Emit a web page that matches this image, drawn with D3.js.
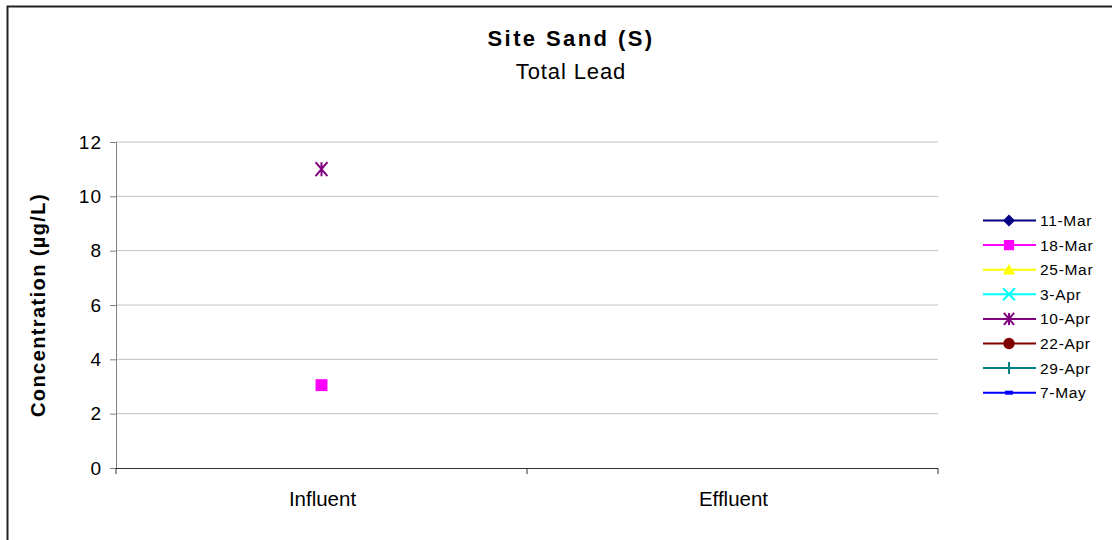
<!DOCTYPE html>
<html><head><meta charset="utf-8">
<script src="https://cdn.jsdelivr.net/npm/d3@7"></script>
<style>body{margin:0;background:#fff;}svg{display:block;font-family:"Liberation Sans",Arial,sans-serif;}</style>
</head><body><svg id="c" width="1112" height="540"></svg>
<script>
const categories = ["Influent", "Effluent"];
const seriesNames = ["11-Mar","18-Mar","25-Mar","3-Apr","10-Apr","22-Apr","29-Apr","7-May"];
const seriesColors = ["#000080","#FF00FF","#FFFF00","#00FFFF","#800080","#800000","#008080","#0000FF"];
const seriesSymbols = ["diamond","square","triangle","x","star","circle","plus","dash"];
const v11Mar = [null, null];
const v18Mar = [3.05, null];
const v25Mar = [null, null];
const v3Apr  = [null, null];
const v10Apr = [11, null];
const v22Apr = [null, null];
const v29Apr = [null, null];
const v7May  = [null, null];
const seriesValues = [v11Mar, v18Mar, v25Mar, v3Apr, v10Apr, v22Apr, v29Apr, v7May];
const yTicks = [0,2,4,6,8,10,12];

const svg = d3.select("#c");
svg.append("rect").attr("x",7.5).attr("y",6.5).attr("width",1200).attr("height",600)
  .attr("fill","#fff").attr("stroke","#222").attr("stroke-width",2);

const L=116, R=938, T=142, B=468;
const x = d3.scaleBand().domain(categories).range([L,R]).paddingInner(0).paddingOuter(0);
const y = d3.scaleLinear().domain([0,12]).range([B,T]);

// gridlines
svg.append("g").selectAll("line").data(yTicks.filter(d=>d>0)).join("line")
  .attr("x1",L).attr("x2",R).attr("y1",d=>y(d)).attr("y2",d=>y(d))
  .attr("stroke","#c0c0c0").attr("stroke-width",1);

// y axis
const ya = svg.append("g").attr("transform",`translate(${L},0)`)
  .call(d3.axisLeft(y).tickValues(yTicks).tickSize(6).tickPadding(8).tickFormat(d3.format("d")));
ya.select(".domain").attr("stroke","#808080");
ya.selectAll(".tick line").attr("stroke","#808080");
ya.selectAll("text").attr("font-size",19).attr("fill","#000").attr("letter-spacing","1")
  .attr("font-family","Liberation Sans, Arial, sans-serif");

// x axis
const xa = svg.append("g").attr("transform",`translate(0,${B})`);
xa.append("line").attr("x1",L).attr("x2",R).attr("y1",0.5).attr("y2",0.5).attr("stroke","#333");
const bounds = [L, ...categories.map(c=>x(c)+x.bandwidth())];
xa.selectAll("line.tk").data(bounds).join("line").attr("class","tk")
  .attr("x1",d=>d).attr("x2",d=>d).attr("y1",0).attr("y2",6).attr("stroke","#333");
xa.selectAll("text").data(categories).join("text")
  .attr("x",d=>x(d)+x.bandwidth()/2+1).attr("y",38).attr("text-anchor","middle")
  .attr("font-size",20.5).attr("fill","#000").text(d=>d);

// y label
svg.append("text").attr("transform",`translate(45,${(T+B)/2}) rotate(-90)`)
  .attr("text-anchor","middle").attr("font-size",20).attr("font-weight","bold")
  .attr("letter-spacing","1.4").text("Concentration (µg/L)");

// titles
svg.append("text").attr("x",571).attr("y",46).attr("text-anchor","middle")
  .attr("font-size",22).attr("font-weight","bold").attr("letter-spacing","2.4").text("Site Sand (S)");
svg.append("text").attr("x",571).attr("y",79).attr("text-anchor","middle")
  .attr("font-size",22).attr("letter-spacing","0.9").text("Total Lead");

function drawSymbol(g, type, color, size){
  const s=size;
  if(type==="diamond") g.append("path").attr("d",`M0,${-s}L${s},0L0,${s}L${-s},0Z`).attr("fill",color);
  else if(type==="square") g.append("rect").attr("x",-s*0.85).attr("y",-s*0.85).attr("width",s*1.7).attr("height",s*1.7).attr("fill",color);
  else if(type==="triangle") g.append("path").attr("d",`M0,${-s}L${s},${s*0.8}L${-s},${s*0.8}Z`).attr("fill",color);
  else if(type==="x") g.append("path").attr("d",`M${-s},${-s}L${s},${s}M${-s},${s}L${s},${-s}`).attr("stroke",color).attr("stroke-width",2);
  else if(type==="star") g.append("path").attr("d",`M${-s*0.85},${-s}L${s*0.85},${s}M${-s*0.85},${s}L${s*0.85},${-s}M0,${-s}L0,${s}`).attr("stroke",color).attr("stroke-width",2);
  else if(type==="circle") g.append("circle").attr("r",s*0.95).attr("fill",color);
  else if(type==="plus") g.append("path").attr("d",`M${-s},0L${s},0M0,${-s}L0,${s}`).attr("stroke",color).attr("stroke-width",2);
  else if(type==="dash") g.append("rect").attr("x",-s*0.65).attr("y",-2).attr("width",s*1.3).attr("height",4).attr("fill",color);
}

// data points
seriesValues.forEach((vals,i)=>{
  const pts = categories.map((c,j)=>({c,v:vals[j]})).filter(d=>d.v!=null);
  const line = d3.line().x(d=>x(d.c)+x.bandwidth()/2).y(d=>y(d.v));
  if(pts.length>1) svg.append("path").attr("d",line(pts)).attr("fill","none").attr("stroke",seriesColors[i]).attr("stroke-width",2);
  pts.forEach(d=>{
    const g = svg.append("g").attr("transform",`translate(${x(d.c)+x.bandwidth()/2},${y(d.v)})`);
    drawSymbol(g, seriesSymbols[i], seriesColors[i], 7);
  });
});

// legend
const leg = svg.append("g");
seriesNames.forEach((n,i)=>{
  const yy = 220.5 + i*24.6;
  leg.append("line").attr("x1",983).attr("x2",1036).attr("y1",yy).attr("y2",yy).attr("stroke",seriesColors[i]).attr("stroke-width",2);
  const g = leg.append("g").attr("transform",`translate(1009,${yy})`);
  drawSymbol(g, seriesSymbols[i], seriesColors[i], 6);
  leg.append("text").attr("x",1040).attr("y",yy+5.5).attr("font-size",15.5).attr("letter-spacing","0.7").text(n);
});
</script></body></html>
